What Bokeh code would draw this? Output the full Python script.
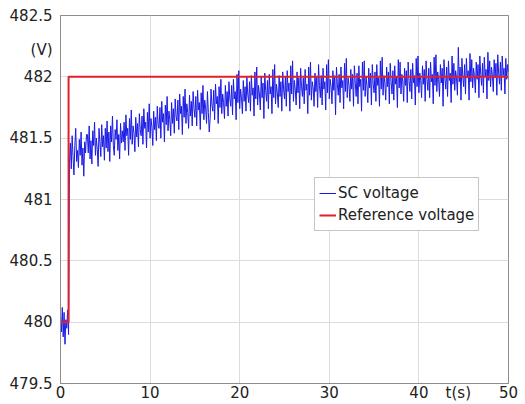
from bokeh.plotting import figure
from bokeh.models import Range1d, FixedTicker, Legend, LegendItem
from bokeh.embed import file_html
from bokeh.resources import INLINE

# ---- data ----
sc_t_start = 0.0
sc_t_step = 0.1
sc_voltage = [
    480.05, 479.92, 480.12, 479.88, 480.08, 479.82, 480.02, 479.95, 480.10, 479.90,
    481.30, 481.46, 481.25, 481.52, 481.35, 481.20, 481.44, 481.58, 481.31, 481.40, 481.26, 481.49, 481.36, 481.55, 481.28, 481.42, 481.19, 481.47, 481.38, 481.53,
    481.53, 481.38, 481.60, 481.33, 481.48, 481.29, 481.56, 481.44, 481.63, 481.36, 481.50, 481.41, 481.27, 481.58, 481.46, 481.35, 481.61, 481.43, 481.52, 481.32,
    481.58, 481.42, 481.64, 481.39, 481.55, 481.31, 481.60, 481.47, 481.68, 481.44, 481.36, 481.57, 481.49, 481.65, 481.40, 481.53, 481.33, 481.62, 481.46, 481.56,
    481.47, 481.63, 481.40, 481.69, 481.52, 481.58, 481.36, 481.66, 481.49, 481.73, 481.45, 481.60, 481.54, 481.39, 481.67, 481.51, 481.62, 481.43, 481.70, 481.57,
    481.52, 481.68, 481.45, 481.74, 481.58, 481.63, 481.42, 481.71, 481.55, 481.78, 481.50, 481.66, 481.59, 481.44, 481.72, 481.57, 481.67, 481.48, 481.76, 481.61,
    481.58, 481.75, 481.50, 481.80, 481.63, 481.70, 481.47, 481.77, 481.61, 481.84, 481.56, 481.72, 481.65, 481.52, 481.79, 481.62, 481.74, 481.54, 481.82, 481.68,
    481.64, 481.81, 481.57, 481.86, 481.70, 481.76, 481.53, 481.84, 481.67, 481.90, 481.62, 481.78, 481.71, 481.58, 481.85, 481.68, 481.80, 481.60, 481.88, 481.74,
    481.67, 481.84, 481.60, 481.89, 481.73, 481.79, 481.57, 481.87, 481.70, 481.93, 481.65, 481.81, 481.74, 481.62, 481.88, 481.71, 481.55, 481.66, 481.90, 481.77,
    481.72, 481.89, 481.65, 481.94, 481.78, 481.84, 481.62, 481.92, 481.75, 481.98, 481.70, 481.86, 481.79, 481.66, 481.93, 481.76, 481.88, 481.68, 481.96, 481.82,
    481.76, 481.93, 481.69, 481.98, 481.82, 481.88, 481.65, 482.02, 481.79, 482.05, 481.74, 481.90, 481.83, 481.70, 481.97, 481.80, 481.92, 481.72, 482.00, 481.86,
    481.79, 481.96, 481.72, 482.01, 481.85, 481.91, 481.68, 482.04, 481.82, 482.08, 481.77, 481.93, 481.86, 481.73, 482.00, 481.83, 481.95, 481.66, 482.03, 481.89,
    481.80, 481.97, 481.74, 482.02, 481.86, 481.92, 481.70, 482.06, 481.83, 482.10, 481.78, 481.94, 481.87, 481.75, 482.01, 481.84, 481.96, 481.72, 482.04, 481.90,
    481.82, 482.00, 481.76, 482.05, 481.88, 481.95, 481.72, 482.09, 481.86, 482.13, 481.80, 481.97, 481.90, 481.77, 482.04, 481.87, 481.99, 481.74, 482.07, 481.92,
    481.84, 481.99, 481.78, 482.06, 481.89, 481.94, 481.70, 482.08, 481.85, 482.12, 481.81, 481.96, 481.91, 481.76, 482.03, 481.88, 482.00, 481.75, 482.10, 481.93,
    481.83, 482.01, 481.77, 482.07, 481.90, 481.96, 481.73, 482.10, 481.87, 482.14, 481.82, 481.98, 481.92, 481.78, 482.05, 481.89, 482.01, 481.69, 482.08, 481.94,
    481.85, 482.02, 481.79, 482.08, 481.91, 481.97, 481.74, 482.11, 481.88, 482.15, 481.83, 481.99, 481.93, 481.80, 482.06, 481.90, 482.02, 481.76, 482.09, 481.95,
    481.84, 482.03, 481.78, 482.09, 481.92, 481.98, 481.72, 482.12, 481.89, 482.13, 481.84, 482.00, 481.93, 481.79, 482.07, 481.91, 482.03, 481.77, 482.10, 481.94,
    481.87, 482.04, 481.80, 482.10, 481.93, 481.99, 481.76, 482.13, 481.90, 482.16, 481.85, 482.01, 481.95, 481.81, 482.08, 481.92, 482.04, 481.78, 482.11, 481.96,
    481.86, 482.05, 481.81, 482.09, 481.94, 482.00, 481.75, 482.14, 481.91, 482.12, 481.86, 482.02, 481.96, 481.80, 482.07, 481.93, 482.05, 481.79, 482.12, 481.97,
    481.88, 482.06, 481.82, 482.11, 481.95, 482.01, 481.77, 482.15, 481.92, 482.17, 481.87, 482.03, 481.97, 481.83, 482.09, 481.94, 482.06, 481.80, 482.13, 481.98,
    481.89, 482.07, 481.83, 482.12, 481.96, 482.02, 481.78, 482.16, 481.93, 482.18, 481.88, 482.04, 481.98, 481.84, 482.10, 481.95, 482.07, 481.76, 482.14, 481.99,
    481.90, 482.08, 481.84, 482.13, 481.97, 482.03, 481.79, 482.17, 481.94, 482.11, 481.89, 482.05, 481.99, 481.85, 482.24, 481.96, 482.08, 481.81, 482.15, 482.00,
    481.92, 482.10, 481.86, 482.15, 481.99, 482.05, 481.81, 482.19, 481.96, 482.14, 481.91, 482.07, 482.01, 481.87, 482.12, 481.98, 482.10, 481.83, 482.17, 482.02,
    481.93, 482.11, 481.87, 482.16, 482.00, 482.06, 481.82, 482.20, 481.97, 482.13, 481.92, 482.08, 482.02, 481.88, 482.14, 481.99, 482.11, 481.85, 482.18, 482.03,
    481.94, 482.12, 481.89, 482.17, 482.01, 482.07, 481.86, 482.15, 481.98, 482.10, 482.04,
]
sc_time = [round(sc_t_start + i * sc_t_step, 2) for i in range(len(sc_voltage))]

ref_time = [0.0, 0.9, 0.9, 50.0]
ref_voltage = [480.0, 480.0, 482.0, 482.0]

x_ticks = [0, 10, 20, 30, 40, 50]
x_tick_labels = ["0", "10", "20", "30", "40", "50"]
x_unit_pos, x_unit_label = 44.4, "t(s)"
y_ticks = [479.5, 480, 480.5, 481, 481.5, 482, 482.5]
y_tick_labels = ["479.5", "480", "480.5", "481", "481.5", "482", "482.5"]
y_unit_pos, y_unit_label = 482.22, "(V)"

FONT = "DejaVu Sans"
FS = "15px"

p = figure(width=518, height=404, output_backend="svg", toolbar_location=None,
           x_range=Range1d(0, 50), y_range=Range1d(479.5, 482.5),
           min_border_left=60, min_border_right=10, min_border_top=15, min_border_bottom=17)

r_sc = p.line(sc_time, sc_voltage, line_color="#1a1ae6", line_width=1)
r_ref = p.line(ref_time, ref_voltage, line_color="#e0202a", line_width=2)

for ax in (p.xaxis[0], p.yaxis[0]):
    ax.axis_line_color = "#8c8c8c"
    ax.major_tick_line_color = None
    ax.minor_tick_line_color = None
    ax.major_label_text_font = FONT
    ax.major_label_text_font_size = FS
    ax.major_label_text_color = "#222222"
    ax.major_label_standoff = 2
p.xaxis.major_label_standoff = 0
p.xaxis.major_tick_out = 0
p.xaxis.major_tick_in = 0

p.xaxis.ticker = FixedTicker(ticks=x_ticks + [x_unit_pos])
p.xaxis.major_label_overrides = {**{t: l for t, l in zip(x_ticks, x_tick_labels)},
                                 x_unit_pos: x_unit_label}
p.yaxis.ticker = FixedTicker(ticks=y_ticks + [y_unit_pos])
p.yaxis.major_label_overrides = {**{t: l for t, l in zip(y_ticks, y_tick_labels)},
                                 y_unit_pos: y_unit_label}

p.xgrid.ticker = FixedTicker(ticks=x_ticks)
p.ygrid.ticker = FixedTicker(ticks=y_ticks)
p.xgrid.grid_line_color = "#dcdcdc"
p.ygrid.grid_line_color = "#dcdcdc"
p.outline_line_color = "#8c8c8c"
p.background_fill_color = "white"
p.border_fill_color = "white"

legend = Legend(items=[LegendItem(label="SC voltage", renderers=[r_sc]),
                       LegendItem(label="Reference voltage", renderers=[r_ref])],
                location=(254, 152), label_text_font=FONT, label_text_font_size=FS,
                label_text_color="#222222", glyph_width=17, glyph_height=22,
                label_standoff=2, spacing=0, padding=4, margin=0,
                border_line_color="#8c8c8c", label_height=22)
p.add_layout(legend)

open("out.html", "w").write(file_html(p, INLINE))
